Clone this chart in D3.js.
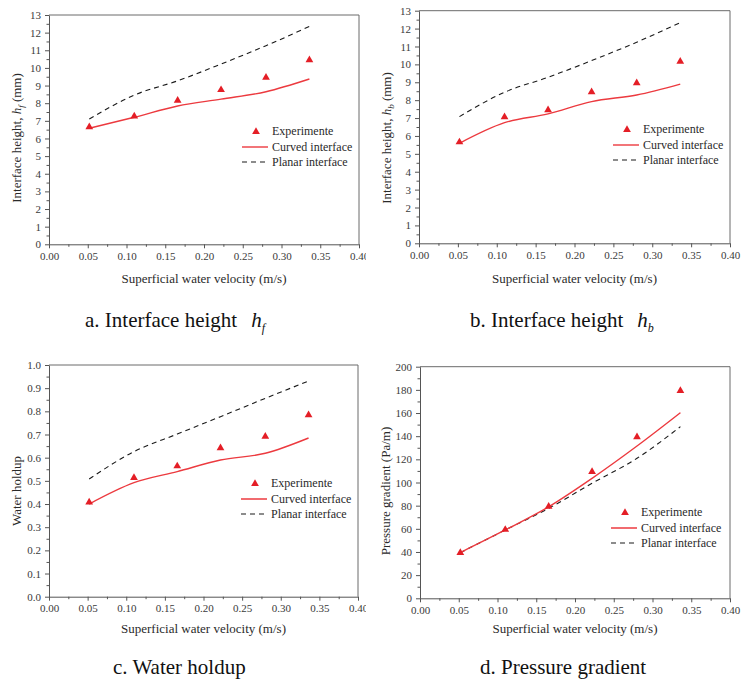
<!DOCTYPE html>
<html>
<head>
<meta charset="utf-8">
<script src="https://cdn.jsdelivr.net/npm/d3@7/dist/d3.min.js"></script>
<style>
  html, body { margin: 0; padding: 0; background: #fff; }
  svg { display: block; }
  svg text { font-family: "Liberation Serif", Tinos, "Times New Roman", Times, "DejaVu Serif", "Noto Serif", serif !important; }
</style>
</head>
<body>
<svg id="chart" width="741" height="691"></svg>
<script>
// ---- Data ----
const velocity = [0.052, 0.11, 0.166, 0.222, 0.28, 0.336];

const hfExp    = [6.7, 7.3, 8.2, 8.8, 9.5, 10.5];
const hfCurved = [6.58, 7.2, 7.84, 8.23, 8.65, 9.37];
const hfPlanar = [7.1, 8.46, 9.27, 10.22, 11.26, 12.35];

const hbExp    = [5.7, 7.1, 7.5, 8.5, 9.0, 10.2];
const hbCurved = [5.59, 6.74, 7.23, 7.92, 8.29, 8.9];
const hbPlanar = [7.08, 8.44, 9.28, 10.21, 11.24, 12.33];

const holdupExp    = [0.411, 0.517, 0.567, 0.645, 0.695, 0.788];
const holdupCurved = [0.40, 0.492, 0.54, 0.59, 0.619, 0.685];
const holdupPlanar = [0.508, 0.626, 0.702, 0.777, 0.856, 0.931];

const dpExp    = [40, 60, 80, 110, 140, 180];
const dpCurved = [39.5, 59, 79, 103.6, 131.5, 160.3];
const dpPlanar = [39.4, 59, 77.7, 99.3, 120.9, 148.2];

const xTicks = [0, 0.05, 0.10, 0.15, 0.20, 0.25, 0.30, 0.35, 0.40];
const hTicks = [0,1,2,3,4,5,6,7,8,9,10,11,12,13];
const holdupTicks = [0,0.1,0.2,0.3,0.4,0.5,0.6,0.7,0.8,0.9,1.0];
const dpTicks = [0,20,40,60,80,100,120,140,160,180,200];

const legendLabels = ["Experimente", "Curved interface", "Planar interface"];
const xAxisTitle = "Superficial water velocity (m/s)";

// ---- Drawing ----
const svg = d3.select("#chart");
const RED_PT = "#e41e26";
const RED_LN = "#ec3a3f";
const FONT = '"Liberation Serif", Tinos, "Times New Roman", Times, "DejaVu Serif", "Noto Serif", serif';

const panels = [
  { id: "a", L: 49, R: 359, T: 15, B: 244.3, dom: [0, 13], ticks: hTicks, minor: 0.5, fmt: d3.format("d"),
    exp: hfExp, cur: hfCurved, pla: hfPlanar, clipR: 366,
    ylab: ["Interface height, ", "h", "f", " (mm)"], ylx: 16, yly: 138, xlb: 283,
    leg: [256, 131], cap: { x: 85, y: 327, pre: "a. Interface height", h: "h", sub: "f" } },
  { id: "b", L: 419, R: 730, T: 10.7, B: 243.3, dom: [0, 13], ticks: hTicks, minor: 0.5, fmt: d3.format("d"),
    exp: hbExp, cur: hbCurved, pla: hbPlanar, clipR: 741,
    ylab: ["Interface height, ", "h", "b", " (mm)"], ylx: 386, yly: 138, xlb: 283,
    leg: [627, 129], cap: { x: 470, y: 327, pre: "b. Interface height", h: "h", sub: "b" } },
  { id: "c", L: 49, R: 358, T: 365, B: 596.7, dom: [0, 1], ticks: holdupTicks, minor: 0.05, fmt: d3.format(".1f"),
    exp: holdupExp, cur: holdupCurved, pla: holdupPlanar, clipR: 366,
    ylab: ["Water holdup"], ylx: 16, yly: 491, xlb: 633,
    leg: [255, 483], cap: { x: 113, y: 674, pre: "c. Water holdup" } },
  { id: "d", L: 420, R: 730, T: 366.7, B: 598.3, dom: [0, 200], ticks: dpTicks, minor: 10, fmt: d3.format("d"),
    exp: dpExp, cur: dpCurved, pla: dpPlanar, clipR: 741,
    ylab: ["Pressure gradient (Pa/m)"], ylx: 385, yly: 491, xlb: 633,
    leg: [625, 512], cap: { x: 480, y: 674, pre: "d. Pressure gradient" } }
];

const defs = svg.append("defs");

panels.forEach(p => {
  const clipId = "clip-" + p.id;
  defs.append("clipPath").attr("id", clipId)
    .append("rect").attr("x", p.L - 60).attr("y", p.T - 20)
    .attr("width", p.clipR - (p.L - 60)).attr("height", p.B - p.T + 100);

  const g = svg.append("g").attr("clip-path", `url(#${clipId})`);

  const x = d3.scaleLinear().domain([0, 0.40]).range([p.L, p.R]);
  const y = d3.scaleLinear().domain(p.dom).range([p.B, p.T]);

  // frame (top & right)
  g.append("path")
    .attr("d", `M${p.L},${p.T}H${p.R}V${p.B}`)
    .attr("fill", "none").attr("stroke", "#6a6a6a").attr("stroke-width", 1);

  // minor ticks
  const xMinor = d3.range(0.025, 0.40, 0.05);
  g.append("g").attr("transform", `translate(0,${p.B})`)
    .call(d3.axisBottom(x).tickValues(xMinor).tickSize(2.5).tickFormat(""))
    .call(s => s.select(".domain").remove())
    .selectAll("line").attr("stroke", "#555");
  const yMinor = d3.range(p.dom[0] + p.minor, p.dom[1], p.minor * 2);
  g.append("g").attr("transform", `translate(${p.L},0)`)
    .call(d3.axisLeft(y).tickValues(yMinor).tickSize(2.5).tickFormat(""))
    .call(s => s.select(".domain").remove())
    .selectAll("line").attr("stroke", "#555");

  // major axes
  const xa = g.append("g").attr("transform", `translate(0,${p.B})`)
    .call(d3.axisBottom(x).tickValues(xTicks).tickSize(4).tickPadding(4).tickFormat(d3.format(".2f")).tickSizeOuter(0));
  const ya = g.append("g").attr("transform", `translate(${p.L},0)`)
    .call(d3.axisLeft(y).tickValues(p.ticks).tickSize(4).tickPadding(4).tickFormat(p.fmt).tickSizeOuter(0));
  [xa, ya].forEach(a => {
    a.attr("font-family", FONT).attr("font-size", 11);
    a.select(".domain").attr("stroke", "#555");
    a.selectAll(".tick line").attr("stroke", "#555");
    a.selectAll(".tick text").attr("fill", "#3a3a3a");
  });

  // lines
  const line = d3.line().x((d, i) => x(velocity[i])).y(d => y(d)).curve(d3.curveMonotoneX);
  g.append("path").datum(p.pla).attr("d", line)
    .attr("fill", "none").attr("stroke", "#1a1a1a").attr("stroke-width", 1.1)
    .attr("stroke-dasharray", "5,4");
  g.append("path").datum(p.cur).attr("d", line)
    .attr("fill", "none").attr("stroke", RED_LN).attr("stroke-width", 1.4);

  // experiment points
  g.selectAll(".pt").data(p.exp).enter().append("path")
    .attr("transform", (d, i) => `translate(${x(velocity[i])},${y(d) + 0.8})`)
    .attr("d", d3.symbol().type(d3.symbolTriangle).size(26))
    .attr("fill", RED_PT);

  // legend
  const [lx, ly] = p.leg;
  const rows = [0, 16, 31];
  g.append("path").attr("transform", `translate(${lx},${ly + 0.8})`)
    .attr("d", d3.symbol().type(d3.symbolTriangle).size(26)).attr("fill", RED_PT);
  g.append("line").attr("x1", lx - 14).attr("x2", lx + 12)
    .attr("y1", ly + rows[1]).attr("y2", ly + rows[1])
    .attr("stroke", RED_LN).attr("stroke-width", 1.4);
  g.append("line").attr("x1", lx - 14).attr("x2", lx + 12)
    .attr("y1", ly + rows[2]).attr("y2", ly + rows[2])
    .attr("stroke", "#1a1a1a").attr("stroke-width", 1.1).attr("stroke-dasharray", "5,4");
  legendLabels.forEach((t, i) => {
    g.append("text").attr("x", lx + 16).attr("y", ly + rows[i] + 4)
      .attr("font-family", FONT).attr("font-size", 12).attr("fill", "#2a2a2a").text(t);
  });

  // x axis title
  g.append("text").attr("x", (p.L + p.R) / 2).attr("y", p.xlb)
    .attr("font-family", FONT)
    .attr("text-anchor", "middle").attr("font-size", 13).attr("fill", "#2a2a2a").text(xAxisTitle);

  // y axis title
  const yt = svg.append("text")
    .attr("transform", `translate(${p.ylx},${p.yly}) rotate(-90)`)
    .attr("font-family", FONT)
    .attr("text-anchor", "middle").attr("font-size", 13).attr("fill", "#2a2a2a")
    .attr("dy", "0.35em");
  if (p.ylab.length === 1) {
    yt.text(p.ylab[0]);
  } else {
    yt.append("tspan").text(p.ylab[0]);
    yt.append("tspan").attr("font-style", "italic").text(p.ylab[1]);
    yt.append("tspan").attr("font-size", 9).attr("font-style", "italic").attr("dy", 3).text(p.ylab[2]);
    yt.append("tspan").attr("dy", -3).text(p.ylab[3]);
  }

  // caption
  const c = p.cap;
  const ct = svg.append("text").attr("x", c.x).attr("y", c.y)
    .attr("font-family", FONT).attr("font-size", 21).attr("fill", "#111");
  ct.append("tspan").text(c.pre);
  if (c.h) {
    ct.append("tspan").attr("dx", 14).attr("font-style", "italic").text(c.h);
    ct.append("tspan").attr("font-style", "italic").attr("font-size", 12).attr("dy", 5).text(c.sub);
  }
});
</script>
</body>
</html>
